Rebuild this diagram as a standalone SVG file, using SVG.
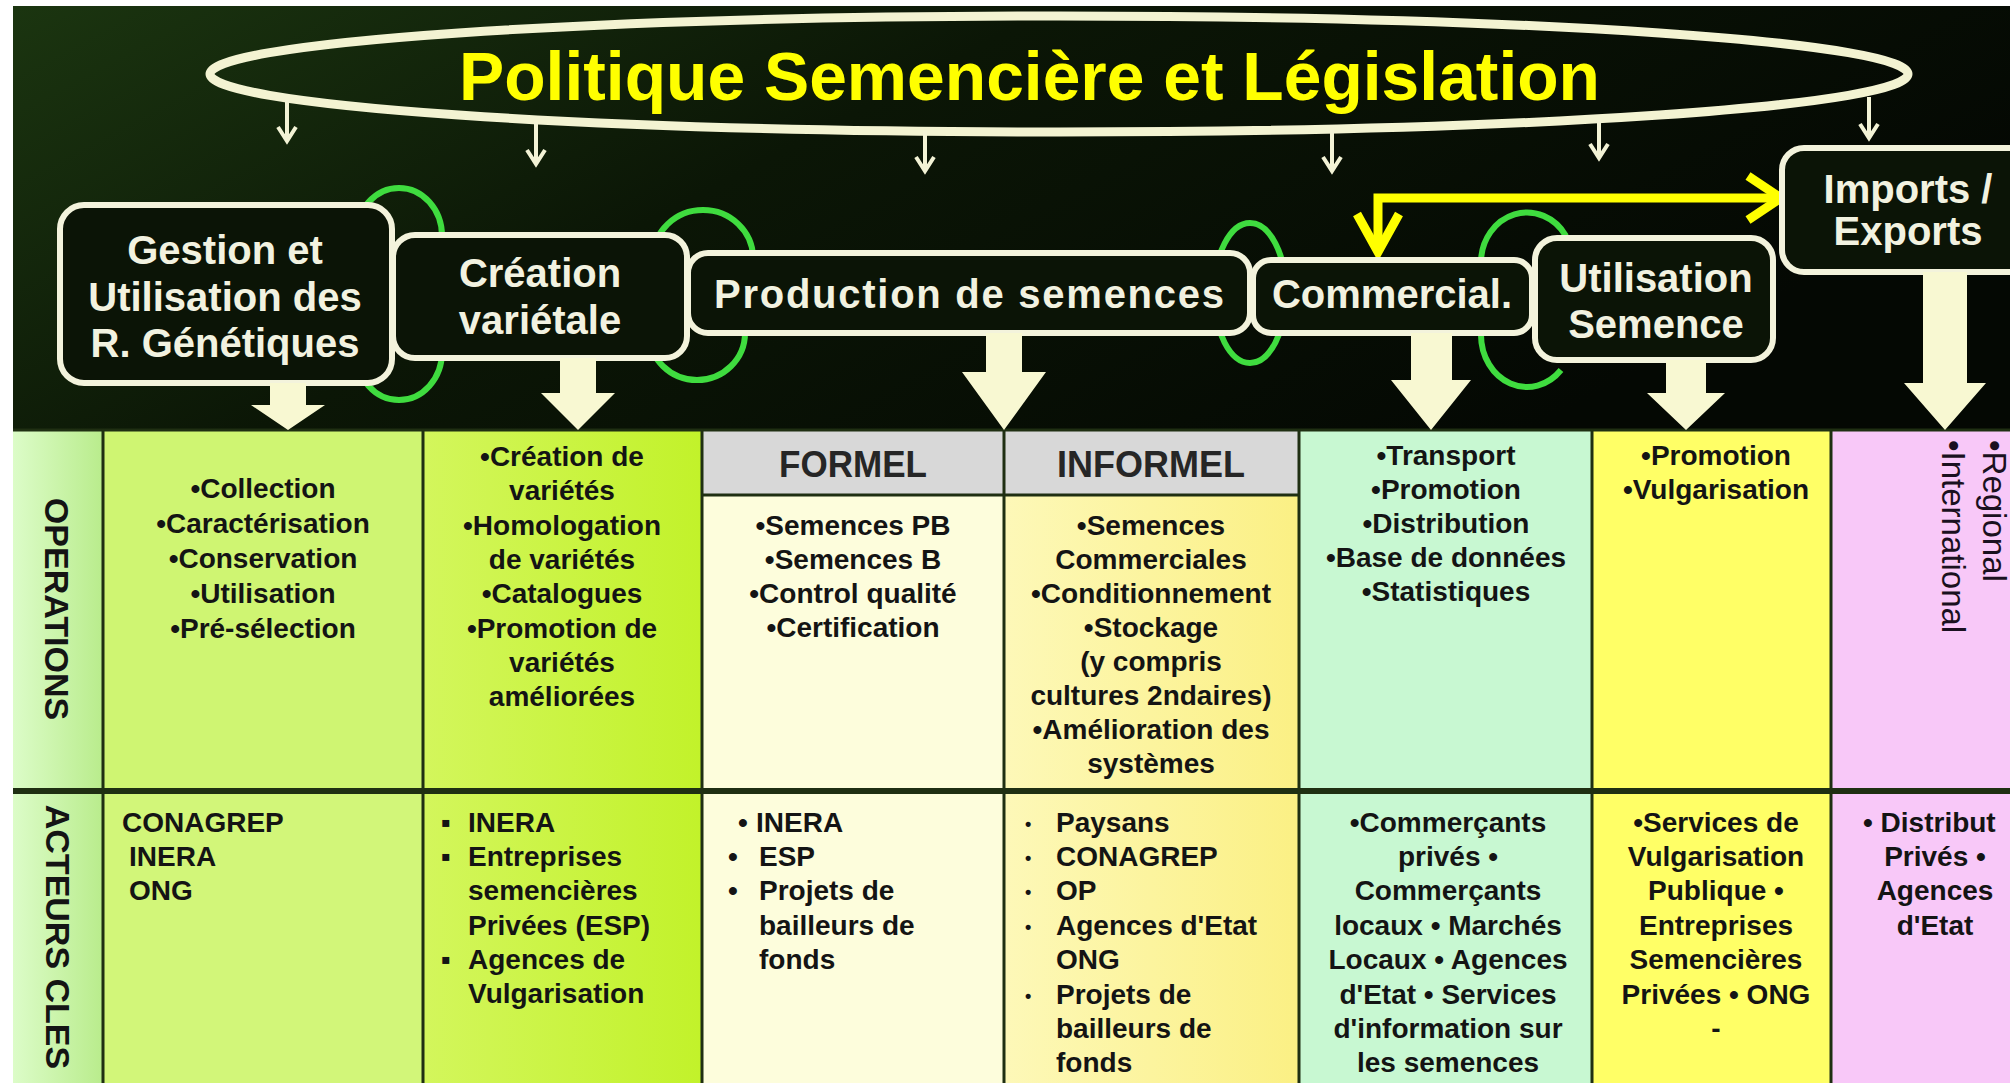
<svg xmlns="http://www.w3.org/2000/svg" width="2010" height="1083" viewBox="0 0 2010 1083">
<defs>
<linearGradient id="bg" x1="0" y1="0" x2="1" y2="0.4">
<stop offset="0" stop-color="#1b3510"/>
<stop offset="0.45" stop-color="#0b1606"/>
<stop offset="1" stop-color="#040803"/>
</linearGradient>
<linearGradient id="lbl" x1="0" x2="1" y1="0" y2="0">
<stop offset="0" stop-color="#dcfcc8"/>
<stop offset="1" stop-color="#b9ec8c"/>
</linearGradient>
<linearGradient id="c2" x1="0" x2="1" y1="0" y2="0">
<stop offset="0" stop-color="#d3f65c"/>
<stop offset="1" stop-color="#c2f22a"/>
</linearGradient>
<linearGradient id="c4" x1="0" x2="1" y1="0" y2="0">
<stop offset="0" stop-color="#fdf8b8"/>
<stop offset="1" stop-color="#fbf084"/>
</linearGradient>
</defs>
<style>
.node rect{fill:#0b1406;stroke:#f3f3dc;stroke-width:6}
.nt{font-family:"Liberation Sans",Arial,sans-serif;font-weight:bold;font-size:40px;fill:#f2f2e0;text-anchor:middle}
.bt{font-family:"Liberation Sans",Arial,sans-serif;font-weight:bold;font-size:28px;fill:#141414}
.c{text-anchor:middle}
.hd{font-family:"Liberation Sans",Arial,sans-serif;font-weight:bold;font-size:37px;fill:#262626;text-anchor:middle}
.vt{font-family:"Liberation Sans",Arial,sans-serif;font-weight:bold;font-size:34px;fill:#141414;text-anchor:middle}
.rt{font-family:"Liberation Sans",Arial,sans-serif;font-size:33px;fill:#1a1020}
.grid line{stroke:#1f2f12;stroke-width:3}
.arc{fill:none;stroke:#3fdc3f;stroke-width:6}
.big{fill:#f8f8d2}
.thin{stroke:#f3f3d6;stroke-width:4;fill:none}
.yel{stroke:#ffff00;stroke-width:9;fill:none}
</style>
<rect x="0" y="0" width="2010" height="1083" fill="#ffffff"/>
<rect x="13" y="6" width="1997" height="424" fill="url(#bg)"/>

<g id="politique">
<ellipse cx="1059" cy="74" rx="849" ry="58" fill="none" stroke="#f3f3d2" stroke-width="9"/>
<text x="459" y="100" textLength="1141" lengthAdjust="spacingAndGlyphs" style="font-family:'Liberation Sans',Arial,sans-serif;font-weight:bold;font-size:68px;fill:#ffff00">Politique Semencière et Législation</text>
</g>

<g id="connectors">
<g class="thin">
<path d="M287,100 V140 M278,127 L287,141 L296,127"/>
<path d="M536,121 V163 M527,150 L536,164 L545,150"/>
<path d="M925,131 V170 M916,157 L925,171 L934,157"/>
<path d="M1332,130 V170 M1323,157 L1332,171 L1341,157"/>
<path d="M1599,120 V157 M1590,144 L1599,158 L1608,144"/>
<path d="M1869,97 V137 M1860,124 L1869,138 L1878,124"/>
</g>
<g>
<path class="arc" d="M356,236 A43,48 0 0 1 442,236"/>
<path class="arc" d="M442,352 A43,48 0 0 1 356,352"/>
<path class="arc" d="M653,258 A50,48 0 0 1 753,258"/>
<path class="arc" d="M745,333 A48,47 0 0 1 649,333"/>
<ellipse class="arc" cx="1250" cy="293" rx="36" ry="70"/>
<path class="arc" d="M1481,262 A46,50 0 0 1 1566,236"/>
<path class="arc" d="M1561,370 A46,52 0 0 1 1481,335"/>
</g>
<path class="yel" d="M1378,250 V198 H1776"/>
<path class="yel" d="M1357,214 L1378,252 L1399,214"/>
<path class="yel" d="M1748,176 L1781,198 L1748,220"/>
</g>

<g id="node-gestion" class="node">
<rect x="60" y="205" width="332" height="178" rx="24"/>
<text class="nt" x="225" y="264">Gestion et</text>
<text class="nt" x="225" y="311">Utilisation des</text>
<text class="nt" x="225" y="357">R. Génétiques</text>
</g>
<g id="node-creation" class="node">
<rect x="393" y="235" width="294" height="123" rx="22"/>
<text class="nt" x="540" y="287">Création</text>
<text class="nt" x="540" y="334">variétale</text>
</g>
<g id="node-production" class="node">
<rect x="688" y="253" width="562" height="80" rx="20"/>
<text class="nt" x="969" y="308" textLength="510">Production de semences</text>
</g>
<g id="node-commercial" class="node">
<rect x="1253" y="260" width="279" height="73" rx="18"/>
<text class="nt" x="1392" y="308">Commercial.</text>
</g>
<g id="node-utilisation" class="node">
<rect x="1535" y="238" width="238" height="122" rx="22"/>
<text class="nt" x="1656" y="292">Utilisation</text>
<text class="nt" x="1656" y="338">Semence</text>
</g>
<g id="node-imports" class="node">
<rect x="1782" y="148" width="260" height="124" rx="22"/>
<text class="nt" x="1908" y="203">Imports /</text>
<text class="nt" x="1908" y="245">Exports</text>
</g>

<g id="table">
<rect x="13" y="429" width="90" height="654" fill="url(#lbl)"/>
<rect x="103" y="429" width="320" height="362" fill="#cff572"/>
<rect x="103" y="791" width="320" height="292" fill="#d2f679"/>
<rect x="423" y="429" width="279" height="654" fill="url(#c2)"/>
<rect x="702" y="429" width="302" height="654" fill="#fdfddc"/>
<rect x="1004" y="429" width="295" height="654" fill="url(#c4)"/>
<rect x="702" y="429" width="597" height="66" fill="#d8d8d8"/>
<rect x="1299" y="429" width="293" height="654" fill="#c8f8d2"/>
<rect x="1592" y="429" width="239" height="654" fill="#ffff66"/>
<rect x="1831" y="429" width="179" height="654" fill="#f8c8f8"/>
<g class="grid">
<line x1="13" y1="430" x2="2010" y2="430"/>
<line x1="702" y1="495" x2="1299" y2="495"/>
<line x1="13" y1="791" x2="2010" y2="791" style="stroke-width:6"/>
<line x1="103" y1="429" x2="103" y2="1083"/>
<line x1="423" y1="429" x2="423" y2="1083"/>
<line x1="702" y1="429" x2="702" y2="1083"/>
<line x1="1004" y1="429" x2="1004" y2="1083"/>
<line x1="1299" y1="429" x2="1299" y2="1083"/>
<line x1="1592" y1="429" x2="1592" y2="1083"/>
<line x1="1831" y1="429" x2="1831" y2="1083"/>
</g>
<text class="vt" transform="translate(45,609) rotate(90)">OPERATIONS</text>
<text class="vt" transform="translate(46,937) rotate(90)">ACTEURS CLES</text>
<text class="hd" x="853" y="477" textLength="148" lengthAdjust="spacingAndGlyphs">FORMEL</text>
<text class="hd" x="1151" y="477" textLength="188" lengthAdjust="spacingAndGlyphs">INFORMEL</text>

<g class="bt c">
<text x="263" y="498">•Collection</text>
<text x="263" y="533">•Caractérisation</text>
<text x="263" y="568">•Conservation</text>
<text x="263" y="603">•Utilisation</text>
<text x="263" y="638">•Pré-sélection</text>

<text x="562" y="466">•Création de</text>
<text x="562" y="500">variétés</text>
<text x="562" y="535">•Homologation</text>
<text x="562" y="569">de variétés</text>
<text x="562" y="603">•Catalogues</text>
<text x="562" y="638">•Promotion de</text>
<text x="562" y="672">variétés</text>
<text x="562" y="706">améliorées</text>

<text x="853" y="535">•Semences PB</text>
<text x="853" y="569">•Semences B</text>
<text x="853" y="603">•Control qualité</text>
<text x="853" y="637">•Certification</text>

<text x="1151" y="535">•Semences</text>
<text x="1151" y="569">Commerciales</text>
<text x="1151" y="603">•Conditionnement</text>
<text x="1151" y="637">•Stockage</text>
<text x="1151" y="671">(y compris</text>
<text x="1151" y="705">cultures 2ndaires)</text>
<text x="1151" y="739">•Amélioration des</text>
<text x="1151" y="773">systèmes</text>

<text x="1446" y="465">•Transport</text>
<text x="1446" y="499">•Promotion</text>
<text x="1446" y="533">•Distribution</text>
<text x="1446" y="567">•Base de données</text>
<text x="1446" y="601">•Statistiques</text>

<text x="1716" y="465">•Promotion</text>
<text x="1716" y="499">•Vulgarisation</text>

<text x="1448" y="832">•Commerçants</text>
<text x="1448" y="866">privés •</text>
<text x="1448" y="900">Commerçants</text>
<text x="1448" y="935">locaux • Marchés</text>
<text x="1448" y="969">Locaux • Agences</text>
<text x="1448" y="1004">d'Etat • Services</text>
<text x="1448" y="1038">d'information sur</text>
<text x="1448" y="1072">les semences</text>

<text x="1716" y="832">•Services de</text>
<text x="1716" y="866">Vulgarisation</text>
<text x="1716" y="900">Publique •</text>
<text x="1716" y="935">Entreprises</text>
<text x="1716" y="969">Semencières</text>
<text x="1716" y="1004">Privées • ONG</text>
<text x="1716" y="1038">-</text>

<text x="1935" y="866">Privés •</text>
<text x="1935" y="900">Agences</text>
<text x="1935" y="935">d'Etat</text>
</g>

<g class="bt">
<text x="1863" y="832">• Distribut</text>

<text x="122" y="832">CONAGREP</text>
<text x="129" y="866">INERA</text>
<text x="129" y="900">ONG</text>

<text x="441" y="832">▪</text><text x="468" y="832">INERA</text>
<text x="441" y="866">▪</text><text x="468" y="866">Entreprises</text>
<text x="468" y="900">semencières</text>
<text x="468" y="935">Privées (ESP)</text>
<text x="441" y="969">▪</text><text x="468" y="969">Agences de</text>
<text x="468" y="1003">Vulgarisation</text>

<text x="738" y="832">•</text><text x="756" y="832">INERA</text>
<text x="728" y="866">•</text><text x="759" y="866">ESP</text>
<text x="728" y="900">•</text><text x="759" y="900">Projets de</text>
<text x="759" y="935">bailleurs de</text>
<text x="759" y="969">fonds</text>

<text x="1025" y="830" style="font-size:18px">•</text><text x="1056" y="832">Paysans</text>
<text x="1025" y="864" style="font-size:18px">•</text><text x="1056" y="866">CONAGREP</text>
<text x="1025" y="898" style="font-size:18px">•</text><text x="1056" y="900">OP</text>
<text x="1025" y="933" style="font-size:18px">•</text><text x="1056" y="935">Agences d'Etat</text>
<text x="1056" y="969">ONG</text>
<text x="1025" y="1002" style="font-size:18px">•</text><text x="1056" y="1004">Projets de</text>
<text x="1056" y="1038">bailleurs de</text>
<text x="1056" y="1072">fonds</text>
</g>

<text class="rt" transform="translate(1983,440) rotate(90)">•Regional</text>
<text class="rt" transform="translate(1942,440) rotate(90)">•International</text>
</g>

<g id="block-arrows" class="big">
<polygon points="270,383 306,383 306,405 325,405 288,430 251,405 270,405"/>
<polygon points="560,358 596,358 596,393 615,393 578,430 541,393 560,393"/>
<polygon points="986,333 1022,333 1022,372 1046,372 1004,430 962,372 986,372"/>
<polygon points="1411,333 1452,333 1452,380 1471,380 1431,430 1391,380 1411,380"/>
<polygon points="1666,360 1706,360 1706,393 1725,393 1686,430 1647,393 1666,393"/>
<polygon points="1923,272 1967,272 1967,383 1986,383 1945,430 1904,383 1923,383"/>
</g>
</svg>
